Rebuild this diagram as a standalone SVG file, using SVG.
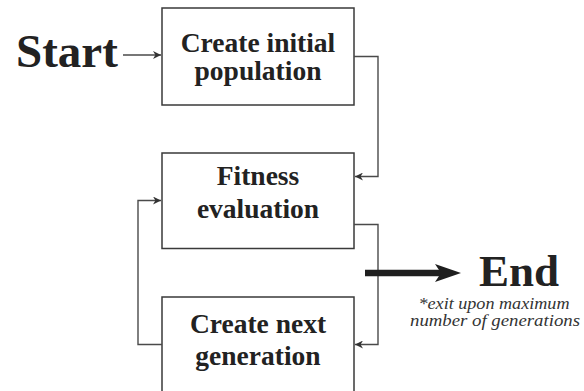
<svg xmlns="http://www.w3.org/2000/svg" width="584" height="391" viewBox="0 0 584 391">
<style>
  .box { fill: #fff; stroke: #3a3a3a; stroke-width: 1.5; }
  .lbl { font-family: "Liberation Serif", "Times New Roman", serif; font-weight: bold; font-size: 27.5px; fill: #222; text-anchor: middle; }
  .big { font-family: "Liberation Serif", "Times New Roman", serif; font-weight: bold; fill: #222; }
  .note { font-family: "Liberation Serif", "DejaVu Serif", serif; font-style: italic; font-size: 16px; fill: #333; text-anchor: middle; }
  .conn { fill: none; stroke: #4a4a4a; stroke-width: 1.4; }
</style>
<defs>
  <marker id="arr" viewBox="0 0 10 10" refX="10" refY="5" markerWidth="8" markerHeight="8" markerUnits="userSpaceOnUse" orient="auto">
    <path d="M0,0 L10,5 L0,10 L3,5 z" fill="#333"/>
  </marker>
</defs>
<rect width="584" height="391" fill="#fff"/>

<g id="start">
  <text class="big" x="16" y="67" font-size="47">Start</text>
</g>
<g id="node-init">
  <rect class="box" x="162" y="8" width="192" height="97"/>
  <text class="lbl" x="258" y="52">Create initial</text>
  <text class="lbl" x="258" y="80">population</text>
</g>
<g id="node-fitness">
  <rect class="box" x="162" y="153" width="192" height="95.5"/>
  <text class="lbl" x="258" y="185">Fitness</text>
  <text class="lbl" x="258" y="218">evaluation</text>
</g>
<g id="node-next">
  <rect class="box" x="162" y="297" width="192" height="100"/>
  <text class="lbl" x="258" y="333">Create next</text>
  <text class="lbl" x="258" y="365">generation</text>
</g>
<g id="end">
  <text class="big" x="479" y="286" font-size="45">End</text>
  <text class="note" x="494" y="308.5" textLength="151" lengthAdjust="spacingAndGlyphs">*exit upon maximum</text>
  <text class="note" x="495" y="325.5" textLength="170" lengthAdjust="spacingAndGlyphs">number of generations</text>
</g>

<g id="connectors">
  <line class="conn" x1="123" y1="55" x2="161" y2="55" marker-end="url(#arr)"/>
  <path class="conn" d="M354,56.5 H378 V176.5 H355" marker-end="url(#arr)"/>
  <path class="conn" d="M354,224.5 H378 V344.5 H355" marker-end="url(#arr)"/>
  <path class="conn" d="M162,344.5 H138 V200.5 H161" marker-end="url(#arr)"/>
  <line x1="365" y1="273" x2="442" y2="273" stroke="#1e1e1e" stroke-width="6.5"/>
  <path d="M461,273 L435,264 L441,273 L435,282 z" fill="#1e1e1e"/>
</g>
</svg>
